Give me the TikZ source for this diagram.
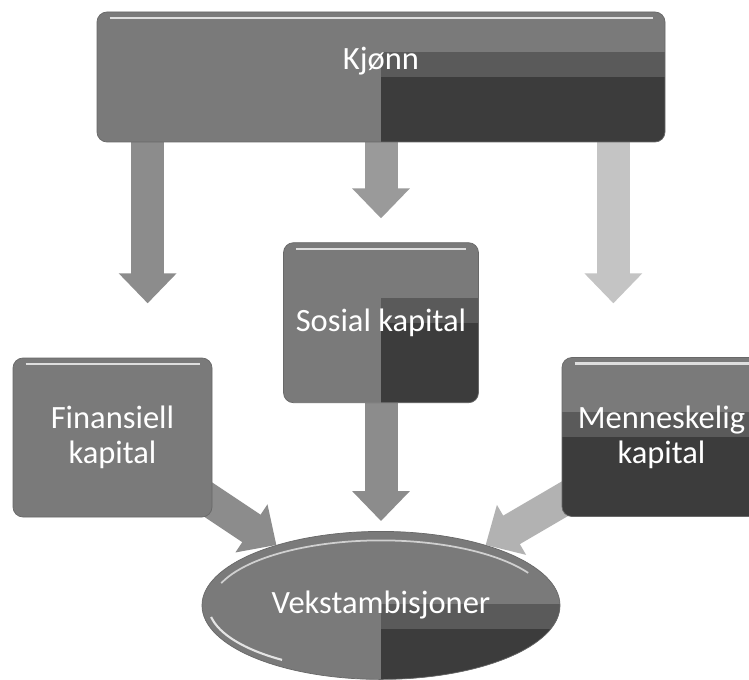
\documentclass[tikz,border=0pt]{standalone}
\usepackage{fontspec}
\setmainfont{Carlito}
\usepackage{tikz}
\usetikzlibrary{shapes.geometric,arrows.meta,positioning,calc}
\definecolor{BoxGray}{HTML}{7A7A7A}
\definecolor{BoxBand}{HTML}{5A5A5A}
\definecolor{BoxDark}{HTML}{3C3C3C}
\definecolor{ArrMid}{HTML}{8C8C8C}
\definecolor{ArrSoft}{HTML}{9A9A9A}
\definecolor{ArrPale}{HTML}{B2B2B2}
\definecolor{ArrLight}{HTML}{C4C4C4}
\pgfdeclarelayer{back}
\pgfdeclarelayer{pipes}
\pgfsetlayers{back,pipes,main}
\tikzset{
  BX/.style={rectangle,rounded corners=0.2cm,draw=BoxGray!85!black,fill=BoxGray,
             text=white,align=center,inner sep=1pt,
             font=\fontsize{18.5}{20}\selectfont},
  gl/.style={path picture={
      \draw[white!75!BoxGray,line width=1.2pt]([shift={(0.25cm,-0.12cm)}]path picture bounding box.north west)--([shift={(-0.25cm,-0.12cm)}]path picture bounding box.north east);}},
  qD/.style={path picture={
      \fill[BoxBand,sharp corners]([yshift=0.5cm]path picture bounding box.center) rectangle (path picture bounding box.east);
      \fill[BoxDark,sharp corners](path picture bounding box.center) rectangle (path picture bounding box.south east);
      \draw[white!75!BoxGray,line width=1.2pt]([shift={(0.25cm,-0.12cm)}]path picture bounding box.north west)--([shift={(-0.25cm,-0.12cm)}]path picture bounding box.north east);}},
  hD/.style={path picture={
      \fill[BoxBand,sharp corners]([yshift=0.5cm]path picture bounding box.west) rectangle (path picture bounding box.east);
      \fill[BoxDark,sharp corners](path picture bounding box.west) rectangle (path picture bounding box.south east);
      \draw[white!75!BoxGray,line width=1.2pt]([shift={(0.25cm,-0.12cm)}]path picture bounding box.north west)--([shift={(-0.25cm,-0.12cm)}]path picture bounding box.north east);}},
  eD/.style={path picture={
      \fill[BoxBand]([yshift=0.02cm]path picture bounding box.center) rectangle ([yshift=-0.48cm]path picture bounding box.east);
      \fill[BoxDark]([yshift=-0.48cm]path picture bounding box.center) rectangle (path picture bounding box.south east);
      \draw[white!65!BoxGray,line width=1pt]([shift={(160:3.4cm and 1.3cm)}]path picture bounding box.center)
          arc[start angle=160,end angle=30,x radius=3.4cm,y radius=1.3cm];
      \draw[white!80!BoxGray,line width=1.2pt]([shift={(190:3.45cm and 1.33cm)}]path picture bounding box.center)
          arc[start angle=190,end angle=235,x radius=3.45cm,y radius=1.33cm];}},
  nP/.style={BX,gl},
  nB/.style={BX,qD},
  nH/.style={BX,hD},
  nE/.style={ellipse,draw=BoxGray!85!black,fill=BoxGray,text=white,inner sep=0pt,
             font=\fontsize{18.5}{20}\selectfont,eD},
  blk/.style={line width=0.66cm,-{Triangle[length=0.6cm,width=1.12cm]}}
}
\begin{document}
\begin{tikzpicture}
  \useasboundingbox (0,0) rectangle (14.98,-13.6);
  \begin{pgfonlayer}{back}
    \fill[white] (0,0) rectangle (14.98,-13.6);
  \end{pgfonlayer}

  \node[nB,minimum width=11.36cm,minimum height=2.6cm,text depth=0.75cm] (kjonn) at (7.62,-1.54) {Kjønn};
  \node[nB,minimum width=3.9cm,minimum height=3.2cm,below=2cm of kjonn] (sosial) {Sosial kapital};
  \node[nP,minimum width=3.98cm,minimum height=3.18cm] (finans) at (2.25,-8.75) {Finansiell\\kapital};
  \node[nH,minimum width=3.98cm,minimum height=3.18cm] (mensk) at (13.23,-8.74) {Menneskelig\\kapital};
  \node[nE,minimum width=7.16cm,minimum height=2.96cm,below=2.56cm of sosial] (vekst) {Vekstambisjoner};

  \coordinate (fL) at ([xshift=1.02cm,yshift=-3.22cm]kjonn.south west);
  \coordinate (fR) at ([xshift=-1.04cm,yshift=-3.22cm]kjonn.south east);

  \begin{pgfonlayer}{pipes}
    \draw[blk,ArrMid](fL|-kjonn.center)--(fL);
    \draw[blk,ArrSoft,shorten >=0.48cm](kjonn)--(kjonn|-sosial.north);
    \draw[blk,ArrLight](fR|-kjonn.center)--(fR);
    \draw[blk,ArrMid,shorten >=0.2cm](sosial)--(sosial|-vekst.north);
    \draw[blk,ArrMid]([shift={(-0.3cm,0.5cm)}]finans.south east)--(vekst.150);
    \draw[blk,ArrPale]([shift={(0.3cm,0.5cm)}]mensk.south west)--(vekst.30);
  \end{pgfonlayer}
\end{tikzpicture}
\end{document}
